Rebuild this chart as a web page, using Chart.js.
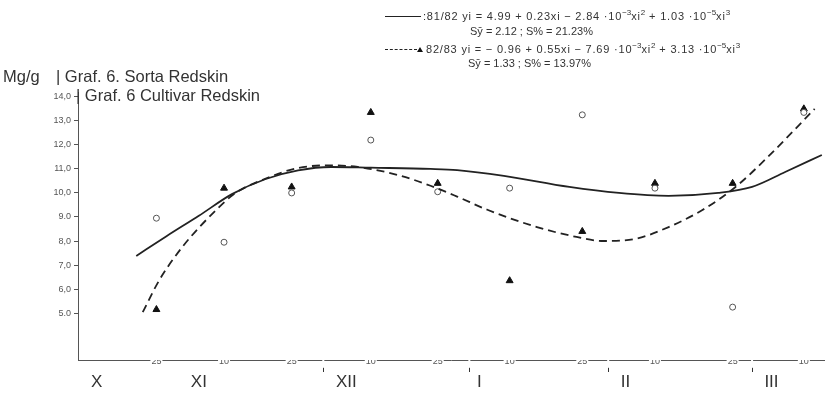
<!DOCTYPE html>
<html>
<head>
<meta charset="utf-8">
<script src="https://cdn.jsdelivr.net/npm/chart.js@4.4.0/dist/chart.umd.min.js"></script>
<style>
  html, body { margin: 0; padding: 0; background: #fff; }
  #wrap { position: relative; width: 829px; height: 395px; overflow: hidden; }
  #chart { position: absolute; left: 0; top: 0; }
  .txt { position: absolute; white-space: nowrap; color: #333; font-family: "Liberation Sans", Arial, sans-serif; }
  .big { font-size: 16.5px; }
  .eq { font-family: "Liberation Sans", sans-serif; font-size: 11px; color: #333; letter-spacing: 0.8px; }
  .eq sup { font-size: 8px; vertical-align: 5px; letter-spacing: 0; }
  .solid { display: inline-block; width: 36px; border-top: 1.5px solid #222; vertical-align: 3px; margin-right: 2px; }
  .dash { display: inline-block; width: 32px; border-top: 1.5px dashed #222; vertical-align: 3px; }
  .tri { display: inline-block; width: 0; height: 0; border-left: 3px solid transparent; border-right: 3px solid transparent; border-bottom: 5px solid #111; vertical-align: 1px; margin-right: 3px; }
</style>
</head>
<body>
<div id="wrap">
  <canvas id="chart" width="829" height="395"></canvas>
  <div class="txt big" style="left:3px; top:67px;">Mg/g</div>
  <div class="txt big" style="left:56px; top:67px;">| Graf. 6. Sorta Redskin</div>
  <div class="txt big" style="left:76px; top:86px;">| Graf. 6 Cultivar Redskin</div>
  <div class="txt eq" style="left:385px; top:8px;"><span class="solid"></span>:81/82 yi = 4.99 + 0.23xi − 2.84 ·10<sup>−3</sup>xi<sup>2</sup> + 1.03 ·10<sup>−5</sup>xi<sup>3</sup></div>
  <div class="txt eq" style="left:470px; top:25px; letter-spacing:0;">Sȳ = 2.12 ; S% = 21.23%</div>
  <div class="txt eq" style="left:385px; top:41px;"><span class="dash"></span><span class="tri"></span>82/83 yi = − 0.96 + 0.55xi − 7.69 ·10<sup>−3</sup>xi<sup>2</sup> + 3.13 ·10<sup>−5</sup>xi<sup>3</sup></div>
  <div class="txt eq" style="left:468px; top:57px; letter-spacing:0;">Sȳ = 1.33 ; S% = 13.97%</div>
</div>
<script>
// x in units of sampling intervals (25 Oct = 0 ... 10 Mar = 9)
const sampleX = [0, 0.94, 1.88, 2.98, 3.91, 4.91, 5.92, 6.93, 8.01, 9];
const sampleLabels = ["25", "10", "25", "10", "25", "10", "25", "10", "25", "10"];
const monthLabels = ["X", "XI", "XII", "I", "II", "III"];
const monthLabelX = [-0.83, 0.59, 2.64, 4.49, 6.52, 8.55];
const monthStartX = [2.32, 4.35, 6.28, 8.28];

const yTicks = [5, 6, 7, 8, 9, 10, 11, 12, 13, 14];
const yTickLabels = ["5.0", "6,0", "7,0", "8,0", "9.0", "10,0", "11,0", "12,0", "13,0", "14,0"];

// measured values
const circles8182 = [8.95, 7.95, 10.0, 12.2, 10.05, 10.2, 13.25, 10.2, 5.25, 13.35];
const triangles8283 = [5.15, 10.2, 10.25, 13.35, 10.4, 6.35, 8.4, 10.4, 10.4, 13.5];

// fitted curves, points
const fit8182X = [-0.28, 0.14, 0.59, 1.05, 1.52, 1.97, 2.43, 2.98, 3.81, 4.18, 4.83, 5.74, 6.43, 7.12, 7.81, 8.28, 8.74, 9.25];
const fit8182Y = [7.38, 8.2, 9.05, 9.95, 10.58, 10.94, 11.08, 11.05, 11.0, 10.95, 10.71, 10.25, 10.0, 9.88, 10.0, 10.25, 10.87, 11.58];
const fit8283X = [-0.19, 0.04, 0.36, 0.83, 1.10, 1.52, 1.97, 2.43, 2.80, 3.35, 3.81, 4.18, 4.60, 5.29, 5.84, 6.21, 6.67, 7.12, 7.59, 8.05, 8.50, 9.15];
const fit8283Y = [5.04, 6.37, 7.75, 9.29, 10.0, 10.6, 11.04, 11.15, 11.08, 10.75, 10.3, 9.85, 9.3, 8.58, 8.17, 8.0, 8.1, 8.58, 9.29, 10.25, 11.5, 13.5];

const ink = "#222";
const xy = (xs, ys) => xs.map((x, i) => ({ x, y: ys[i] }));

new Chart(document.getElementById("chart"), {
  type: "line",
  data: {
    datasets: [
      {
        label: "81/82", data: xy(fit8182X, fit8182Y),
        borderColor: ink, borderWidth: 1.8, pointRadius: 0, cubicInterpolationMode: "monotone", fill: false
      },
      {
        label: "82/83", data: xy(fit8283X, fit8283Y),
        borderColor: ink, borderWidth: 1.8, borderDash: [8, 5], pointRadius: 0, cubicInterpolationMode: "monotone", fill: false
      },
      {
        label: "81/82 data", data: xy(sampleX, circles8182), showLine: false,
        pointStyle: "circle", pointRadius: 3, borderWidth: 1, borderColor: "#555", backgroundColor: "#fff"
      },
      {
        label: "82/83 data", data: xy(sampleX, triangles8283), showLine: false,
        pointStyle: "triangle", pointRadius: 4, borderWidth: 1, borderColor: "#111", backgroundColor: "#111"
      }
    ]
  },
  options: {
    responsive: false,
    animation: false,
    layout: { padding: { top: 92, left: 0, right: 0, bottom: 0 } },
    plugins: { legend: { display: false }, tooltip: { enabled: false } },
    scales: {
      x: {
        type: "linear", position: "bottom", min: -1.09, max: 9.28,
        afterBuildTicks: (s) => { s.ticks = [...sampleX, ...monthStartX].sort((a, b) => a - b).map(v => ({ value: v })); },
        afterFit: (s) => { s.height = 12; },
        border: { display: true, color: "#555", width: 1 },
        grid: {
          drawOnChartArea: false, drawTicks: true, tickLength: 12,
          color: (ctx) => (ctx.tick && monthStartX.includes(ctx.tick.value)) ? "#333" : "rgba(0,0,0,0)"
        },
        ticks: {
          autoSkip: false, maxRotation: 0, padding: -16, color: "#555",
          font: { family: "Liberation Sans, sans-serif", size: 9 },
          showLabelBackdrop: true, backdropColor: "#fff", backdropPadding: 1,
          callback: (v) => { const i = sampleX.indexOf(v); return i >= 0 ? sampleLabels[i] : ""; }
        }
      },
      x2: {
        type: "linear", position: "bottom", min: -1.09, max: 9.28,
        afterBuildTicks: (s) => { s.ticks = monthLabelX.map(v => ({ value: v })); },
        afterFit: (s) => { s.height = 23; },
        border: { display: false },
        grid: { display: false, drawTicks: false },
        ticks: {
          autoSkip: false, maxRotation: 0, padding: 0, color: "#333",
          font: { family: "Liberation Sans, Arial, sans-serif", size: 17 },
          callback: (v) => { const i = monthLabelX.indexOf(v); return i >= 0 ? monthLabels[i] : ""; }
        }
      },
      y: {
        type: "linear", position: "left", min: 3.05, max: 14.2,
        afterBuildTicks: (s) => { s.ticks = yTicks.map(v => ({ value: v })); },
        afterFit: (s) => { s.width = 78; },
        border: { display: true, color: "#555", width: 1 },
        grid: { drawOnChartArea: false, drawTicks: true, tickLength: 4, color: "#555" },
        ticks: {
          padding: 3, color: "#555",
          font: { family: "Liberation Sans, sans-serif", size: 9 },
          callback: (v) => { const i = yTicks.indexOf(v); return i >= 0 ? yTickLabels[i] : ""; }
        }
      }
    }
  }
});
</script>
</body>
</html>
